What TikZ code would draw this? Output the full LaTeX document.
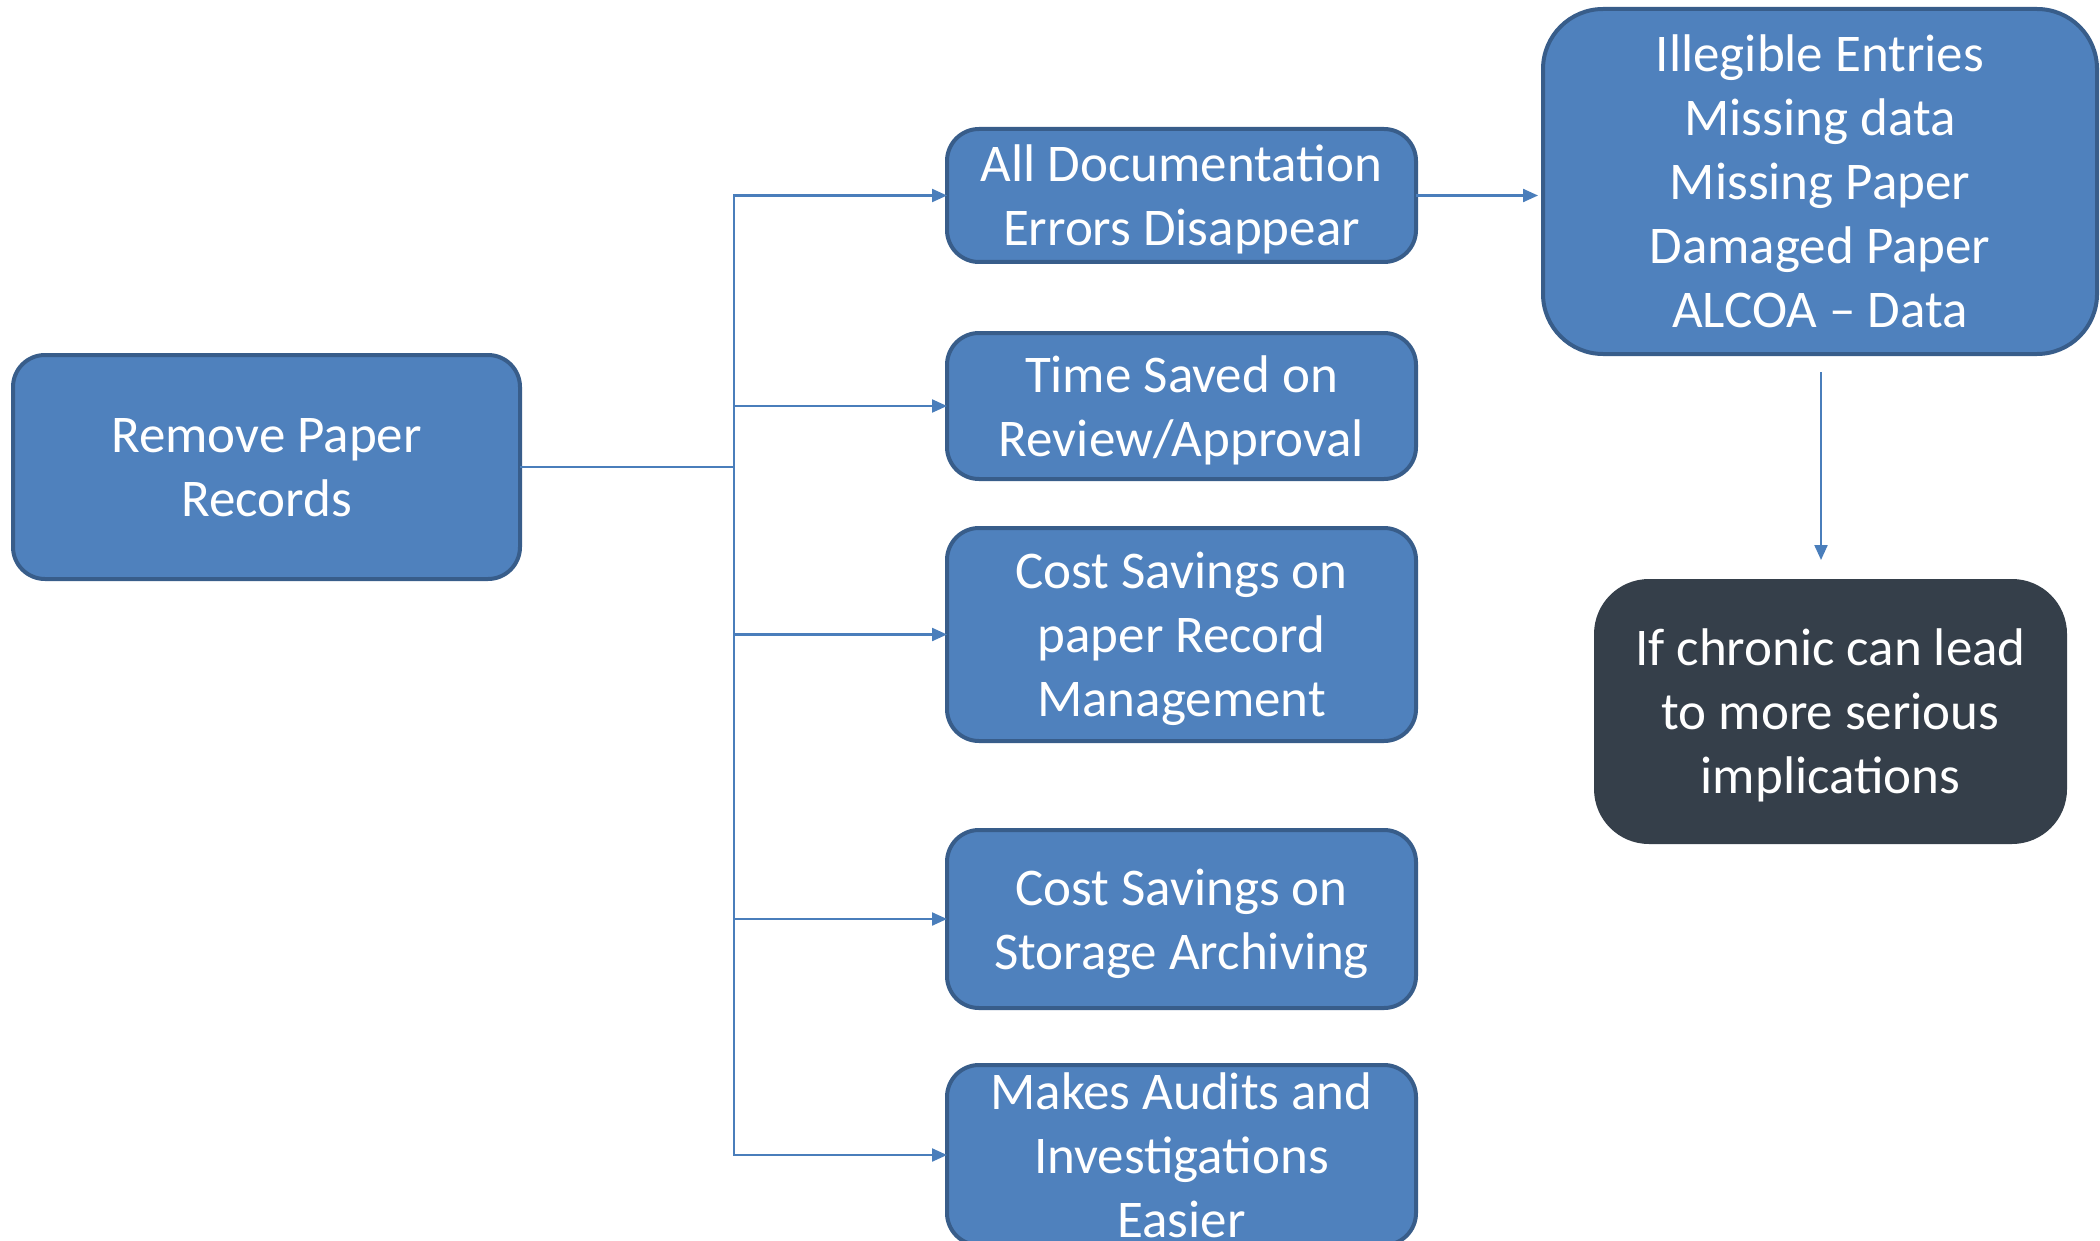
\documentclass[tikz,border=0pt]{standalone}
\usepackage{fontspec}
\setmainfont{Carlito}
\usetikzlibrary{arrows.meta}
\definecolor{boxfill}{HTML}{4F81BD}
\definecolor{boxline}{HTML}{385D8A}
\definecolor{darkfill}{HTML}{353F4A}
\definecolor{linkcol}{HTML}{4A7EBB}
\tikzset{
  boxtext/.style={text=white, align=center, font=\fontsize{53}{64}\selectfont,
    text depth=-2pt},
  bluebox/.style={boxtext, draw=boxline, line width=4pt, fill=boxfill, rounded corners=32pt,
    inner sep=0pt, outer sep=0pt},
  darkbox/.style={boxtext, fill=darkfill, rounded corners=55pt, inner sep=0pt, outer sep=0pt},
  link/.style={draw=linkcol, line width=2.2pt},
  arrowlink/.style={link, -{Triangle[length=15pt,width=13pt]}},
}
\begin{document}
\begin{tikzpicture}[x=1pt,y=-1pt]
  \useasboundingbox (0,0) rectangle (2100,1241);
  \fill[white] (0,0) rectangle (2100,1241);

  % source box
  \node[bluebox, minimum width=507pt, minimum height=224pt] (L) at (266.5,467)
    {Remove Paper\\Records};

  % benefit boxes
  \node[bluebox, minimum width=469pt, minimum height=133pt] (B1) at (1181.5,195.5)
    {All Documentation\\Errors Disappear};
  \node[bluebox, minimum width=469pt, minimum height=146pt] (B2) at (1181.5,406)
    {Time Saved on\\Review/Approval};
  \node[bluebox, minimum width=469pt, minimum height=213pt] (B3) at (1181.5,634.5)
    {Cost Savings on\\paper Record\\Management};
  \node[bluebox, minimum width=469pt, minimum height=178pt] (B4) at (1181.5,919)
    {Cost Savings on\\Storage Archiving};
  \node[bluebox, minimum width=469pt, minimum height=180pt] (B5) at (1181.5,1155)
    {Makes Audits and\\Investigations\\Easier};

  % error list and consequence
  \node[bluebox, rounded corners=60pt, minimum width=554pt, minimum height=345pt] (R) at (1820,181.5)
    {Illegible Entries\\Missing data\\Missing Paper\\Damaged Paper\\ALCOA -- Data};
  \node[darkbox, minimum width=473pt, minimum height=265pt] (D) at (1830.5,711.5)
    {If chronic can lead\\to more serious\\implications};

  % branching connectors
  \coordinate (trunk) at (734,467);
  \draw[link] (L.east) -- (trunk);
  \draw[arrowlink] (trunk) |- (B1.west);
  \draw[arrowlink] (trunk) |- (B2.west);
  \draw[arrowlink] (trunk) |- (B3.west);
  \draw[arrowlink] (trunk) |- (B4.west);
  \draw[arrowlink] (trunk) |- (B5.west);

  \draw[arrowlink, shorten >=5pt] (B1.east) -- (R.west |- B1.east);

  \coordinate (dstart) at (1821,372);
  \coordinate (dend) at (1821,560);
  \draw[arrowlink] (dstart) -- (dend);
\end{tikzpicture}
\end{document}
